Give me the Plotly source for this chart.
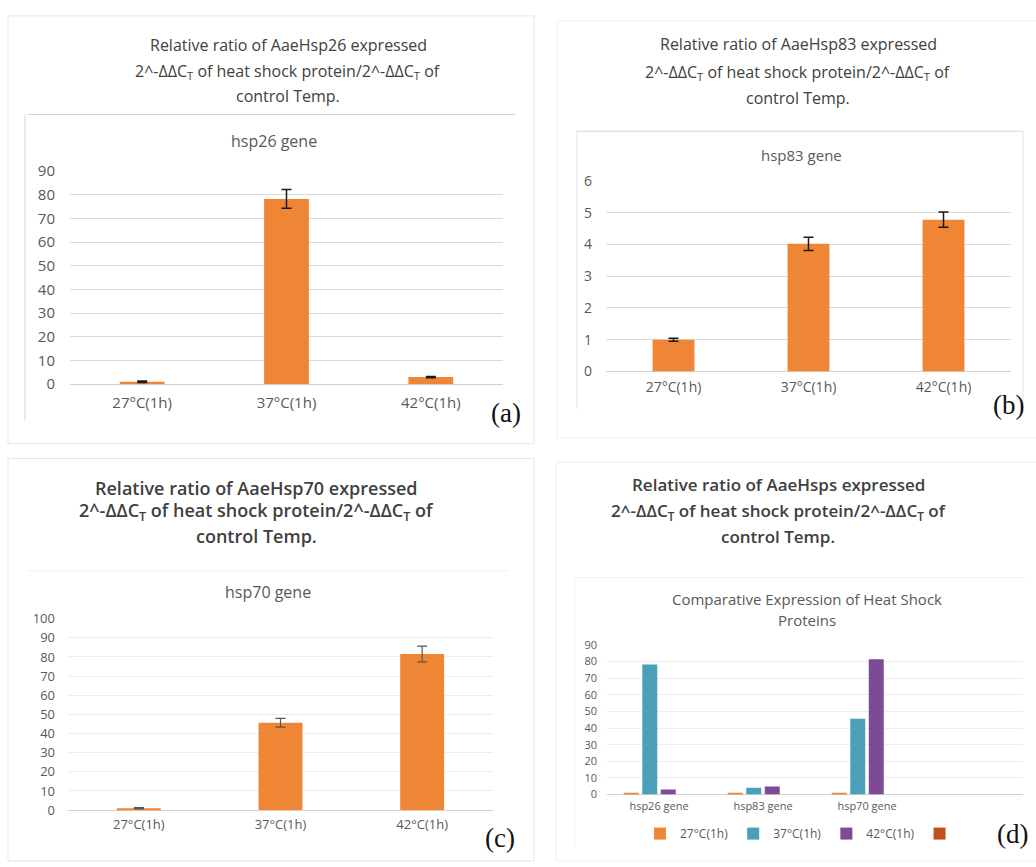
import plotly.graph_objects as go

# ---------------- data ----------------
temps = ["27°C(1h)", "37°C(1h)", "42°C(1h)"]
hsp26 = [1.0, 78.3, 3.0]
hsp26_err = [0.3, 4.0, 0.3]
hsp83 = [1.0, 4.02, 4.78]
hsp83_err = [0.05, 0.21, 0.24]
hsp70 = [1.0, 45.6, 81.5]
hsp70_err = [0.3, 2.3, 4.1]
genes = ["hsp26 gene", "hsp83 gene", "hsp70 gene"]
cmp_27 = [1.0, 1.0, 1.0]
cmp_37 = [78.3, 4.02, 45.6]
cmp_42 = [3.0, 4.78, 81.5]
cmp_blank = [None, None, None]
cmp_names = ["27°C(1h)", "37°C(1h)", "42°C(1h)", " "]

W, H = 1036, 867
def fx(x): return x / W
def fy(y): return 1 - y / H

ORANGE = "#EF8636"
TEAL = "#4A9FB9"
PURPLE = "#7D4B96"
RED = "#C2501E"
TXT = "#595959"
TTL = "#404040"
FONT = "Open Sans"

fig = go.Figure()

def single(vals, errs, xa, ya, errcolor, thick):
    fig.add_trace(go.Bar(
        x=temps, y=vals, xaxis=xa, yaxis=ya, width=0.31,
        marker=dict(color=ORANGE, line=dict(width=0)),
        error_y=dict(type="data", array=errs, color=errcolor, thickness=thick, width=5),
        showlegend=False, hoverinfo="skip"))

single(hsp26, hsp26_err, "x", "y", "#1a1a1a", 1.5)
single(hsp83, hsp83_err, "x2", "y2", "#1a1a1a", 1.5)
single(hsp70, hsp70_err, "x3", "y3", "#555555", 1.2)

# comparative grouped bars (4 series slots, 4th empty)
step, bw = 0.178, 0.144
for j, (vals, col) in enumerate([(cmp_27, ORANGE), (cmp_37, TEAL), (cmp_42, PURPLE), (cmp_blank, RED)]):
    off = -2 * step + j * step + (step - bw) / 2
    fig.add_trace(go.Bar(
        x=genes, y=vals, xaxis="x4", yaxis="y4",
        width=bw, offset=off, name=cmp_names[j],
        marker=dict(color=col, line=dict(width=0)),
        showlegend=True, hoverinfo="skip"))

def xax(x0, x1, anchor, size, rng=None, standoff=6):
    d = dict(domain=[fx(x0), fx(x1)], anchor=anchor, showgrid=False, zeroline=False,
             showline=False, ticks="", type="category",
             tickfont=dict(family=FONT, size=size, color=TXT), ticklabelstandoff=standoff)
    if rng is not None:
        d["range"] = rng
    return d

def yax(y0, y1, anchor, rng, dt, size, grid, standoff):
    return dict(domain=[fy(y1), fy(y0)], anchor=anchor, range=rng, dtick=dt,
                showgrid=True, gridcolor=grid, gridwidth=1, zeroline=True,
                zerolinecolor="#D0D0D0", zerolinewidth=1, showline=False, ticks="",
                tickfont=dict(family=FONT, size=size, color=TXT), ticklabelstandoff=standoff)

fig.update_layout(
    xaxis=xax(70, 503, "y", 15, standoff=8),
    yaxis=yax(164, 382, "x", [0, 90], 10, 15, "#D9D9D9", 14),
    xaxis2=xax(606, 1011, "y2", 14, standoff=6),
    yaxis2=yax(174, 369, "x2", [0, 6], 1, 14, "#D9D9D9", 13),
    xaxis3=xax(68, 493, "y3", 13, standoff=5),
    yaxis3=yax(622, 818, "x3", [0, 100], 10, 13, "#EDEDED", 12),
    xaxis4=xax(607, 1023, "y4", 11, rng=[-0.5, 3.5], standoff=4),
    yaxis4=yax(649, 802, "x4", [0, 90], 10, 11, "#EDEDED", 9),
    barmode="group",
    width=W, height=H, margin=dict(l=0, r=0, t=0, b=0),
    paper_bgcolor="white", plot_bgcolor="rgba(0,0,0,0)",
    legend=dict(orientation="h", x=fx(804), xanchor="center", y=fy(842), yanchor="middle",
                font=dict(family=FONT, size=12, color=TXT), bgcolor="rgba(0,0,0,0)",
                itemwidth=30, tracegroupgap=0),
)

ann = []
def text(x, y, s, size, color=TTL, family=FONT, weight=None):
    f = dict(family=family, size=size, color=color)
    if weight:
        f["weight"] = weight
    ann.append(dict(x=fx(x), y=fy(y), xref="paper", yref="paper", text=s, showarrow=False,
                    xanchor="center", yanchor="middle", font=f))

sub = "2^-ΔΔC<sub>T</sub> of heat shock protein/2^-ΔΔC<sub>T</sub> of"
titles = [
    (288, [35, 62, 87], "Relative ratio of AaeHsp26 expressed", 16, None),
    (798, [34, 63, 89], "Relative ratio of AaeHsp83 expressed", 16, None),
    (256, [488, 512, 537], "Relative ratio of AaeHsp70 expressed", 18, 600),
    (778, [485, 512, 538], "Relative ratio of AaeHsps expressed", 17, 600),
]
for cx, ys, l1, sz, wt in titles:
    text(cx, ys[0], l1, sz, weight=wt)
    text(cx, ys[1], sub, sz, weight=wt)
    text(cx, ys[2], "control Temp.", sz, weight=wt)

text(274, 133, "hsp26 gene", 16, TXT)
text(801, 147, "hsp83 gene", 15, TXT)
text(268, 595, "hsp70 gene", 16, TXT)
text(807, 602, "Comparative Expression of Heat Shock", 15, TXT)
text(807, 623, "Proteins", 15, TXT)

for (x, y, s) in [(506, 412, "(a)"), (1008, 403, "(b)"), (500, 847, "(c)"), (1012, 842, "(d)")]:
    text(x, y, s, 27, "#111111", "Liberation Serif")

fig.update_layout(annotations=ann)

shapes = []
def rect(x0, y0, x1, y1, col):
    shapes.append(dict(type="rect", xref="paper", yref="paper", x0=fx(x0), x1=fx(x1),
                       y0=fy(y1), y1=fy(y0), line=dict(color=col, width=1), layer="below"))
def line(x0, y0, x1, y1, col):
    shapes.append(dict(type="line", xref="paper", yref="paper", x0=fx(x0), x1=fx(x1),
                       y0=fy(y0), y1=fy(y1), line=dict(color=col, width=1), layer="below"))

# outer panel frames
rect(8, 5, 534, 443, "#E6E6E6")
rect(557, 10, 1040, 437, "#EEEEEE")
rect(8, 458, 534, 870, "#E6E6E6")
rect(556, 462, 1040, 870, "#EEEEEE")
# inner chart frames
line(28, 106, 515, 106, "#CFCFCF")
line(25, 106, 25, 419, "#D6D6D6")
line(576, 123, 1023, 123, "#D6D6D6")
line(577, 123, 577, 407, "#E2E2E2")
line(1023, 123, 1023, 410, "#E2E2E2")
line(28, 573, 508, 573, "#EEEEEE")
line(575, 580, 1025, 580, "#EEEEEE")
line(575, 580, 575, 855, "#F2F2F2")
fig.update_layout(shapes=shapes)

fig.write_html("out.html")
